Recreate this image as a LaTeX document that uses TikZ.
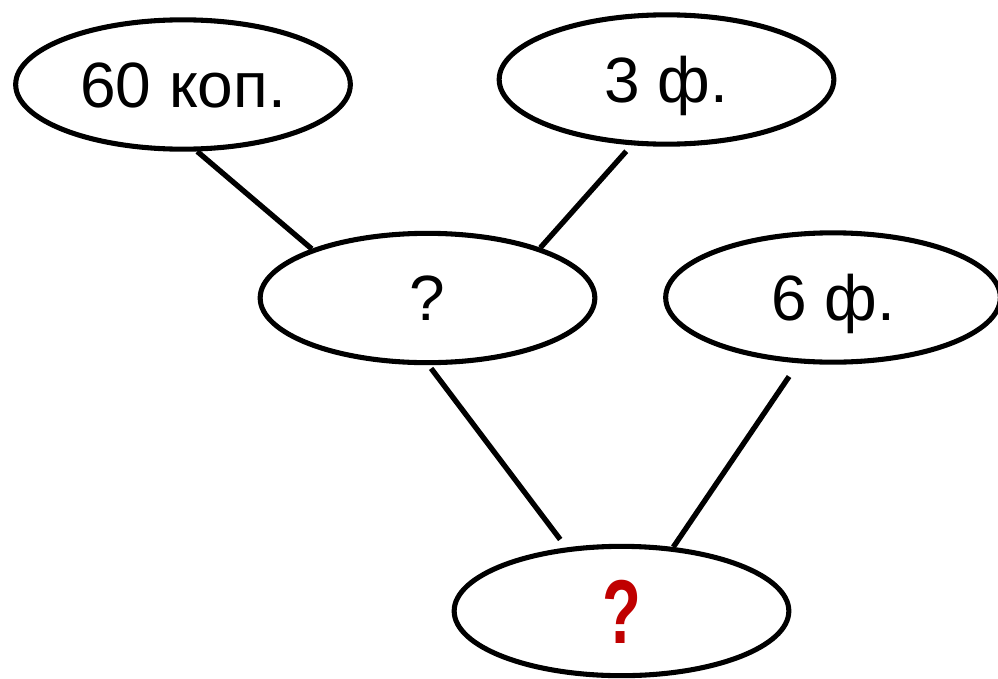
\documentclass[tikz,border=0pt]{standalone}
\usepackage{fontspec}
\setmainfont{Liberation Sans}
\usetikzlibrary{shapes.geometric}
\definecolor{askred}{RGB}{192,0,0}

\begin{document}
\begin{tikzpicture}[
    x=0.75pt,y=-0.75pt,
    font=\fontsize{48}{56}\selectfont,
    oval/.style={
      ellipse,draw=black,fill=white,line width=3.8pt,
      minimum width=251pt,minimum height=97pt,inner sep=0pt,
      text height=34pt,text depth=0pt
    },
    link/.style={line width=4pt,color=black}
  ]
    \useasboundingbox (0,0) rectangle (998,678);

    \node[oval] (kop) at (183,84.5) {60 коп.};
    \node[oval] (three) at (666.5,79.5) {3 ф.};
    \node[oval] (mid) at (427.5,298) {?};
    \node[oval] (six) at (833,297.5) {6 ф.};
    \node[oval,text=askred,text height=49pt,
      font=\fontsize{68}{80}\selectfont\bfseries] (ask) at (621.5,611)
      {\scalebox{0.7}[1]{?}};

    \draw[link] (kop.282) -- (mid.157.5);
    \draw[link,shorten <=6pt] (three.242) -- (mid.24);
    \draw[link,shorten <=3pt,shorten >=7.5pt] (mid.271) -- (ask.131);
    \draw[link,shorten <=12pt] (six.242) -- (ask.51);
\end{tikzpicture}
\end{document}
